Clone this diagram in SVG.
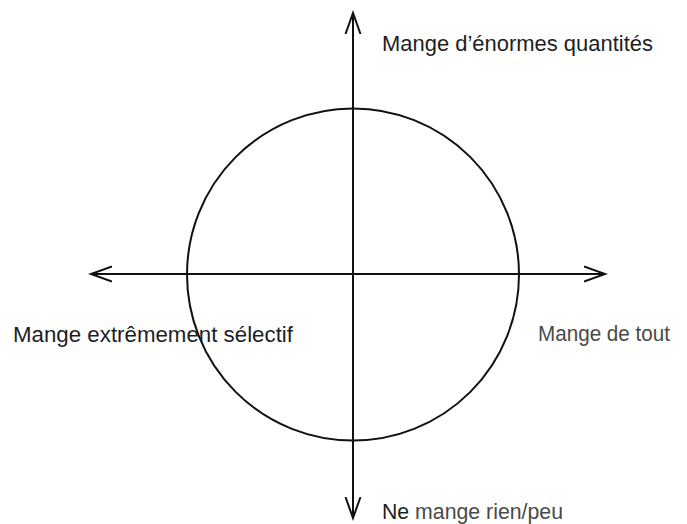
<svg xmlns="http://www.w3.org/2000/svg" width="687" height="524" viewBox="0 0 687 524">
  <style>
    .ln { stroke: #111; stroke-width: 2; fill: none; }
    .lbl { font-family: "Liberation Sans", Arial, sans-serif; font-size: 22.5px; }
    .dk { fill: #1e1e1e; }
    .gy { fill: #4a4a4a; }
  </style>
  <defs>
    <marker id="arr" markerUnits="userSpaceOnUse" markerWidth="30" markerHeight="30" refX="21" refY="10" orient="auto">
      <polyline points="0,2.5 21,10 0,17.5" fill="none" stroke="#111" stroke-width="2"/>
    </marker>
  </defs>
  <rect width="687" height="524" fill="#fff"/>
  <g id="circle">
    <circle class="ln" cx="353" cy="274.5" r="166"/>
  </g>
  <g id="connectors">
    <line class="ln" x1="353" y1="274" x2="353" y2="13" marker-end="url(#arr)"/>
    <line class="ln" x1="353" y1="274" x2="353" y2="518" marker-end="url(#arr)"/>
    <line class="ln" x1="353" y1="274" x2="91" y2="274" marker-end="url(#arr)"/>
    <line class="ln" x1="353" y1="274" x2="605" y2="274" marker-end="url(#arr)"/>
  </g>
  <g id="label-top">
    <text class="lbl dk" x="382" y="51" textLength="271" lengthAdjust="spacingAndGlyphs">Mange d’énormes quantités</text>
  </g>
  <g id="label-left">
    <text class="lbl dk" x="13" y="341.5" textLength="280" lengthAdjust="spacingAndGlyphs">Mange extrêmement sélectif</text>
  </g>
  <g id="label-right">
    <text class="lbl gy" x="538" y="341" textLength="132" lengthAdjust="spacingAndGlyphs">Mange de tout</text>
  </g>
  <g id="label-bottom">
    <text class="lbl gy" x="382" y="519" textLength="181" lengthAdjust="spacingAndGlyphs"><tspan class="dk">Ne</tspan> mange rien/peu</text>
  </g>
</svg>
